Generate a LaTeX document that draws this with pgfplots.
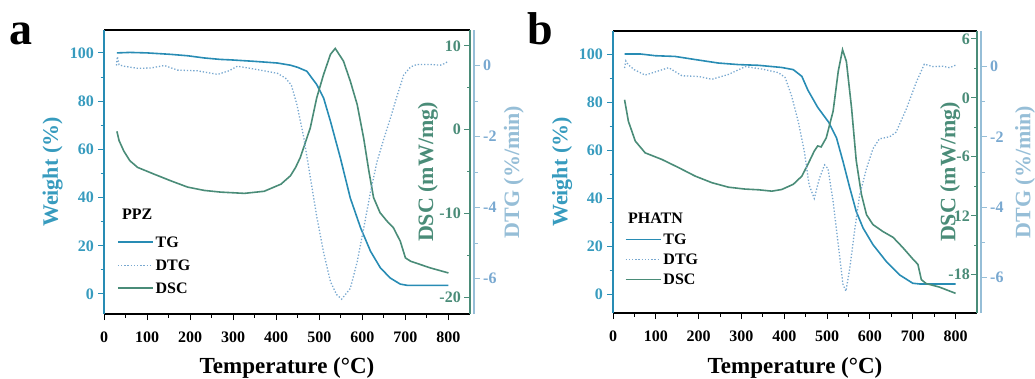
\documentclass[border=0pt]{standalone}
\usepackage{fontspec}
\setmainfont{Liberation Serif}
\usepackage{pgfplots}
\pgfplotsset{compat=1.18}
\definecolor{tgc}{RGB}{40,140,180}
\definecolor{tgl}{RGB}{55,155,190}
\definecolor{dscc}{RGB}{74,140,120}
\definecolor{dtgc}{RGB}{120,168,208}
\definecolor{dtgl}{RGB}{150,190,215}
\newcommand{\lblfont}{\fontsize{22}{22}\selectfont\bfseries}
\newcommand{\xlblfont}{\fontsize{23}{23}\selectfont\bfseries}
\newcommand{\tkfont}{\fontsize{16}{16}\selectfont\bfseries}
\pgfplotsset{
  common/.style={scale only axis, anchor=south west, xmin=0, xmax=850,
    /pgf/number format/assume math mode=true,
    tick label style={font=\tkfont, inner sep=0pt},
    major tick length=6pt, minor tick length=3.5pt,
    tick style={line width=1pt},
    axis line style={line width=1.3pt, -},
    legend image code/.code={\draw[#1] (0pt,0pt) -- (35pt,0pt);},
  },
  tgax/.style={common, axis x line=box, axis y line*=left,
    x axis line style={black}, y axis line style={tgc},
    xtick={0,100,...,800}, minor x tick num=1, xtick pos=bottom, tick align=outside,
    ytick={0,20,...,100}, minor y tick num=1,
    yticklabel style={tgl, anchor=east, xshift=-4pt}, y tick style={tgc},
    x tick style={black}, xticklabel style={black, anchor=base, yshift=-22pt},
    xlabel={Temperature (°C)}, ylabel={Weight (\%)},
    ylabel style={tgl, font=\lblfont, at={(axis description cs:-0.14,0.5)}, anchor=center},
  },
  dscax/.style={common, axis x line=none, axis y line*=right, y axis line style={dscc},
    minor y tick num=1, tick align=inside, y tick style={dscc},
    yticklabel style={dscc, anchor=east, xshift=-9pt},
    ylabel={DSC (mW/mg)}, ylabel style={dscc, font=\lblfont, anchor=center},
  },
  dtgax/.style={common, axis x line=none, axis y line*=right, y axis line style={dtgl},
    ymin=-7, ymax=1, ytick={-6,-4,-2,0}, minor y tick num=1, tick align=outside,
    y tick style={dtgl}, yticklabel style={dtgc, anchor=west, xshift=3pt},
    ylabel={DTG (\%/min)}, ylabel style={dtgl, font=\lblfont, anchor=center},
  },
  hid/.style={common, hide axis, ymin=-7, ymax=1},
  leg/.style={legend style={at={(axis description cs:#1)}, anchor=north west, draw=none, fill=none,
    inner sep=0pt, font=\tkfont,
    nodes={inner sep=2pt, text height=11pt, text depth=0pt, anchor=west}}, legend cell align=left},
  tgline/.style={tgc, line width=1.6pt},
  dscline/.style={dscc, line width=1.6pt},
  dtgline/.style={dtgc, line width=1.3pt, dash pattern=on 1.3pt off 1.9pt},
}
\begin{document}
\begin{tikzpicture}
\useasboundingbox (0,0) rectangle (1035pt,378pt);
\node[anchor=base west, inner sep=0pt, font=\fontsize{46}{46}\selectfont\bfseries] at (9pt,333pt) {a};
\node[anchor=base west, inner sep=0pt, font=\fontsize{46}{46}\selectfont\bfseries] at (527pt,333pt) {b};

% ---------------- panel a ----------------
\begin{axis}[tgax, at={(104pt,64pt)}, width=366pt, height=284pt, ymin=-8.3, ymax=109.5,
  xlabel style={font=\xlblfont, at={(axis description cs:0.5,-0.208)}, anchor=base},
  leg={0.035,0.28}, legend style={row sep=8pt}]
\addplot[tgline] coordinates {(30,100) (60,100.2) (100,100) (155,99.4) (195,98.8) (233,97.9) (270,97.3) (295,97.1) (349,96.5) (403,95.8) (433,94.9) (450,94.0) (471,92.4) (494,86.9) (510,81.3) (526,71.6) (549,56.4) (572,39.8) (596,27.4) (619,17.7) (642,10.8) (665,6.6) (688,4.1) (704,3.6) (800,3.6)};
\addlegendentry{TG}
\addlegendimage{dtgline}
\addlegendentry{DTG}
\addlegendimage{dscline}
\addlegendentry{DSC}
\node[anchor=base west, inner sep=0pt, font=\tkfont] at (rel axis cs:0.049,0.331) {PPZ};
\end{axis}
\begin{axis}[dscax, at={(104pt,64pt)}, width=366pt, height=284pt, ymin=-22, ymax=11.9,
  ytick={-20,-10,0,10}, ylabel style={at={(axis description cs:0.885,0.5)}}]
\addplot[dscline] coordinates {(30,-0.2) (35,-1.3) (46,-2.55) (60,-3.7) (78,-4.5) (116,-5.3) (155,-6.1) (194,-6.85) (233,-7.25) (271,-7.45) (326,-7.6) (372,-7.35) (411,-6.5) (433,-5.5) (445,-4.5) (456,-3.3) (479,0.2) (494,3.8) (510,6.6) (526,9.0) (537,9.7) (556,8.2) (572,5.8) (588,3.0) (603,-1.0) (615,-4.9) (626,-8.1) (641,-9.9) (657,-10.9) (672,-11.7) (688,-13.3) (700,-15.3) (712,-15.7) (758,-16.5) (800,-17.1)};
\end{axis}
\begin{axis}[hid, at={(104pt,64pt)}, width=366pt, height=284pt]
\addplot[dtgline] coordinates {(29,0.0) (31,0.25) (35,0.02) (46,-0.02) (78,-0.08) (109,-0.07) (140,0.0) (171,-0.13) (217,-0.15) (264,-0.25) (290,-0.15) (310,-0.02) (349,-0.1) (403,-0.22) (422,-0.36) (435,-0.55) (448,-1.1) (464,-2.03) (479,-3.14) (494,-4.25) (510,-5.27) (526,-6.09) (540,-6.45) (552,-6.58) (572,-6.28) (588,-5.53) (603,-4.59) (619,-3.56) (634,-2.71) (650,-2.06) (665,-1.49) (681,-0.84) (696,-0.27) (712,-0.04) (727,0.03) (758,0.03) (781,0.01) (790,0.05) (800,0.12)};
\end{axis}
\begin{axis}[dtgax, at={(108pt,64pt)}, width=366pt, height=284pt, ylabel style={at={(axis description cs:1.109,0.5)}}]
\addplot[draw=none] coordinates {(0,0)};
\end{axis}

% ---------------- panel b ----------------
\begin{axis}[tgax, at={(613pt,65pt)}, width=364pt, height=282pt, ymin=-7.9, ymax=109.6,
  xlabel style={font=\xlblfont, at={(axis description cs:0.5,-0.213)}, anchor=base},
  leg={0.032,0.288}, legend style={row sep=5pt}]
\addplot[tgline] coordinates {(27,100) (65,100) (99,99.3) (145,99) (192,97.7) (246,96.25) (293,95.6) (340,95.3) (394,94.4) (421,93.5) (441,90.7) (455,85) (478,77.8) (504,71.5) (522,65) (537,55.3) (553,44.2) (568,34.4) (584,27.5) (607,20.6) (638,13.6) (669,8) (700,4.5) (716,4.2) (800,4.2)};
\addlegendentry{TG}
\addlegendimage{dtgline}
\addlegendentry{DTG}
\addlegendimage{dscline}
\addlegendentry{DSC}
\node[anchor=base west, inner sep=0pt, font=\tkfont] at (rel axis cs:0.041,0.319) {PHATN};
\end{axis}
\begin{axis}[dscax, at={(613pt,65pt)}, width=364pt, height=282pt, ymin=-21.9, ymax=6.8,
  ytick={-18,-12,-6,0,6}, yticklabel style={xshift=2pt}, ylabel style={at={(axis description cs:0.926,0.5)}}]
\addplot[dscline] coordinates {(27,-0.2) (36,-2.4) (52,-4.4) (75,-5.6) (114,-6.27) (153,-7.1) (192,-7.97) (231,-8.64) (270,-9.1) (309,-9.29) (340,-9.36) (371,-9.5) (394,-9.33) (421,-8.8) (441,-7.97) (455,-6.78) (470,-5.42) (478,-4.9) (486,-5.0) (498,-4.07) (514,-1.36) (526,2.7) (536,4.9) (545,3.7) (557,-1.0) (568,-6.4) (580,-9.8) (592,-11.9) (607,-12.9) (630,-13.6) (654,-14.2) (677,-15.25) (700,-16.4) (712,-16.95) (720,-18.5) (731,-18.9) (762,-19.26) (800,-19.9)};
\end{axis}
\begin{axis}[hid, at={(613pt,65pt)}, width=364pt, height=282pt]
\addplot[dtgline] coordinates {(27,-0.05) (30,0.15) (35,0.05) (50,-0.1) (75,-0.25) (99,-0.16) (130,-0.04) (161,-0.27) (200,-0.29) (231,-0.37) (270,-0.23) (309,-0.01) (348,-0.08) (386,-0.18) (402,-0.32) (417,-0.84) (433,-1.59) (447,-2.43) (458,-3.37) (470,-3.75) (482,-3.18) (494,-2.8) (502,-2.9) (514,-3.84) (526,-5.06) (537,-6.19) (544,-6.38) (553,-5.72) (565,-4.59) (576,-3.65) (592,-2.9) (607,-2.34) (622,-2.06) (646,-2.0) (661,-1.87) (685,-1.21) (708,-0.46) (727,0.06) (747,-0.01) (770,0.0) (786,-0.04) (800,0.03)};
\end{axis}
\begin{axis}[dtgax, at={(617pt,65pt)}, width=364pt, height=282pt, ylabel style={at={(axis description cs:1.121,0.5)}}]
\addplot[draw=none] coordinates {(0,0)};
\end{axis}
\end{tikzpicture}
\end{document}
